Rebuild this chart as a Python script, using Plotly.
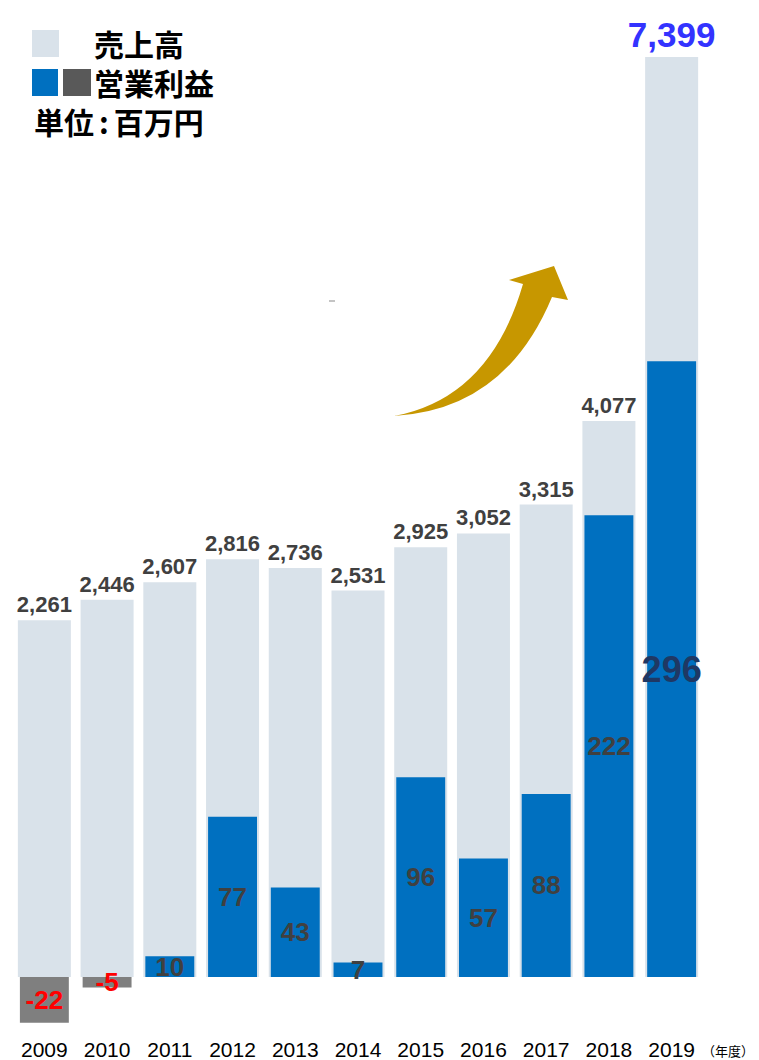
import plotly.graph_objects as go

years = ["2009", "2010", "2011", "2012", "2013", "2014", "2015", "2016", "2017", "2018", "2019"]
sales = [2261, 2446, 2607, 2816, 2736, 2531, 2925, 3052, 3315, 4077, 7399]
profit = [-22, -5, 10, 77, 43, 7, 96, 57, 88, 222, 296]

# page offset of the figure inside the browser (default body margin)
OFF = 8
W, H = 759 - OFF, 1060 - OFF
# plot area in page pixels
PL, PR, PT, PB = 13, 703, 8, 1035
ML, MR, MT, MB = PL - OFF, W - (PR - OFF), PT - OFF, H - (PB - OFF)
PW, PH = PR - PL, PB - PT

# visual floor of the sales scale (reference chart does not start sales bars at zero)
SALES_FLOOR = -995


def px(x):
    return (x - PL) / PW


def py(y):
    return 1 - (y - PT) / PH


LIGHT = "#d9e2ea"
BLUE = "#0070c0"
GRAY_BAR = "#7f7f7f"
GRAY_LEG = "#595959"
NUMFONT = "Liberation Sans, Arial, sans-serif"
JPFONT = "Noto Sans CJK JP, sans-serif"

sales_text = [f"{v:,}" for v in sales]
sales_colors = ["#404040"] * (len(sales) - 1) + ["#3333ff"]
sales_sizes = [22] * (len(sales) - 1) + [35]

profit_colors = [GRAY_BAR if v < 0 else BLUE for v in profit]
profit_text = [str(v) for v in profit]
profit_tcolors = ["#ff0000" if v < 0 else "#404040" for v in profit]
profit_tcolors[-1] = "#1f3864"
profit_tsizes = [26] * (len(profit) - 1) + [36]

fig = go.Figure()
fig.add_trace(go.Bar(
    x=years, y=[v - SALES_FLOOR for v in sales], base=SALES_FLOOR,
    marker=dict(color=LIGHT, line=dict(width=0)), width=0.845,
    text=sales_text, textposition="outside", textangle=0, constraintext="none",
    textfont=dict(family=NUMFONT, size=sales_sizes, color=sales_colors, weight="bold"),
    cliponaxis=False, yaxis="y", showlegend=False, hoverinfo="skip",
))
fig.add_trace(go.Bar(
    x=years, y=profit,
    marker=dict(color=profit_colors, line=dict(width=0)), width=0.78,
    text=profit_text, textposition="inside", insidetextanchor="middle", textangle=0,
    constraintext="none",
    textfont=dict(family=NUMFONT, size=profit_tsizes, color=profit_tcolors, weight="bold"),
    cliponaxis=False, yaxis="y2", showlegend=False, hoverinfo="skip",
))

sales_px_per_unit = 0.1096
profit_px_per_unit = 2.08
base_px = 977
y_top = SALES_FLOOR + (base_px - PT) / sales_px_per_unit
y_bot = SALES_FLOOR - (PB - base_px) / sales_px_per_unit
y2_top = (base_px - PT) / profit_px_per_unit
y2_bot = -(PB - base_px) / profit_px_per_unit

fig.update_layout(
    width=W, height=H,
    margin=dict(l=ML, r=MR, t=MT, b=MB, pad=0),
    paper_bgcolor="white", plot_bgcolor="white",
    barmode="overlay",
    xaxis=dict(type="category", range=[-0.5, len(years) - 0.5], showgrid=False,
               zeroline=False, showline=False, ticks="",
               tickfont=dict(family=NUMFONT, size=21, color="#000000")),
    yaxis=dict(range=[y_bot, y_top], visible=False, fixedrange=True),
    yaxis2=dict(range=[y2_bot, y2_top], visible=False, overlaying="y", fixedrange=True),
    font=dict(family=NUMFONT),
)

shapes = []
# legend squares
shapes.append(dict(type="rect", xref="paper", yref="paper", x0=px(32), x1=px(59), y0=py(57), y1=py(30),
                   fillcolor=LIGHT, line=dict(width=0)))
shapes.append(dict(type="rect", xref="paper", yref="paper", x0=px(32), x1=px(58), y0=py(96), y1=py(69),
                   fillcolor=BLUE, line=dict(width=0)))
shapes.append(dict(type="rect", xref="paper", yref="paper", x0=px(63), x1=px(91), y0=py(96), y1=py(69),
                   fillcolor=GRAY_LEG, line=dict(width=0)))


def pt(x, y):
    return f"{px(x):.5f},{py(y):.5f}"


arrow = (f"M {pt(394, 416)} Q {pt(490, 398)} {pt(523, 284)} L {pt(509, 280)} L {pt(554, 266)} "
         f"L {pt(568, 300)} L {pt(552, 297)} Q {pt(505, 410)} {pt(394, 416)} Z")
shapes.append(dict(type="path", xref="paper", yref="paper", path=arrow,
                   fillcolor="#c79700", line=dict(width=0)))
shapes.append(dict(type="line", xref="paper", yref="paper", x0=px(329), x1=px(335), y0=py(301), y1=py(301),
                   line=dict(color="#b0b0b0", width=1.5)))
fig.update_layout(shapes=shapes)

ann = []
ann.append(dict(text="\u3000\u3000売上高<br>\u3000\u3000営業利益<br>単位\u2006:\u2006百万円",
                x=px(32), y=py(82), xref="paper", yref="paper", xanchor="left", align="left",
                yanchor="middle", showarrow=False,
                font=dict(family=JPFONT, size=30, color="#000000", weight="bold")))
ann.append(dict(text="（年度）", x=px(700), y=py(1050), xref="paper", yref="paper", xanchor="left",
                yanchor="middle", showarrow=False,
                font=dict(family=JPFONT, size=13, color="#000000")))
fig.update_layout(annotations=ann)

fig.write_html("out.html")
